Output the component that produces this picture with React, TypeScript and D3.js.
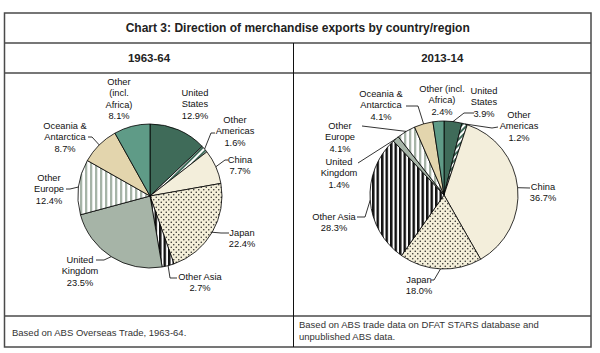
import React from "react";
import * as d3 from "d3";

// ---- Data ----
const regions = [
  "United States",
  "Other Americas",
  "China",
  "Japan",
  "Other Asia",
  "United Kingdom",
  "Other Europe",
  "Oceania & Antarctica",
  "Other (incl. Africa)",
];
const values1963 = [12.9, 1.6, 7.7, 22.4, 2.7, 23.5, 12.4, 8.7, 8.1];
const values2013 = [3.9, 1.2, 36.7, 18.0, 28.3, 1.4, 4.1, 4.1, 2.4];
const periods = ["1963-64", "2013-14"];
const title = "Chart 3: Direction of merchandise exports by country/region";
const sources = [
  ["Based on ABS Overseas Trade, 1963-64."],
  ["Based on ABS trade data on DFAT STARS database and", "unpublished ABS data."],
];

// label text lines (without the value line)
const labelLines1963 = [
  ["United", "States"],
  ["Other", "Americas"],
  ["China"],
  ["Japan"],
  ["Other Asia"],
  ["United", "Kingdom"],
  ["Other", "Europe"],
  ["Oceania &", "Antarctica"],
  ["Other", "(incl.", "Africa)"],
];
const labelLines2013 = [
  ["United", "States"],
  ["Other", "Americas"],
  ["China"],
  ["Japan"],
  ["Other Asia"],
  ["United", "Kingdom"],
  ["Other", "Europe"],
  ["Oceania &", "Antarctica"],
  ["Other (incl.", "Africa)"],
];

// ---- Layout ----
const W = 600;
const H = 353;
const box = { x0: 4.5, x1: 591, y0: 13, yTitle: 43, yHead: 73, yFoot: 316, y1: 347 };
const xMid = 293.5;
const pies = [
  { cx: 150, cy: 196, r: 72 },
  { cx: 444, cy: 195, r: 74 },
];
const fills = [
  "#3f6b59",
  "url(#pOA)",
  "#f3eedb",
  "url(#pJapan)",
  "url(#pOAsia)",
  "#a6b4a7",
  "url(#pOEur)",
  "#e3d5ad",
  "#5f9b87",
];
type LP = { x: number; y: number; lead?: number[][] };
const layout1963: LP[] = [
  { x: 195, y: 93 },
  { x: 235, y: 120, lead: [[211, 133], [215, 133]] },
  { x: 240, y: 160, lead: [[225, 160], [228, 160]] },
  { x: 242, y: 233, lead: [[221, 233], [229, 233]] },
  { x: 200, y: 277, lead: [[170, 278], [177, 278]] },
  { x: 80, y: 260, lead: [[104, 260], [96, 260]] },
  { x: 49, y: 178, lead: [[70, 189], [66, 189]] },
  { x: 65, y: 126, lead: [[92, 137], [88, 137]] },
  { x: 119, y: 82 },
];
const layout2013: LP[] = [
  { x: 484, y: 91, lead: [[464, 113], [474, 113]] },
  { x: 519, y: 115, lead: [[492, 128], [498, 127]] },
  { x: 543, y: 187, lead: [[530, 188]] },
  { x: 419, y: 280, lead: [[434, 280], [431, 280]] },
  { x: 334, y: 217, lead: [[365, 217], [357, 217]] },
  { x: 339, y: 162, lead: [[358, 163]] },
  { x: 340, y: 126, lead: [[362, 126]] },
  { x: 381, y: 94, lead: [[418, 106], [406, 106]] },
  { x: 442, y: 89 },
];

const LH = 11.2;
const FONT = "Liberation Sans, Arial, sans-serif";

function Pie({ values, lines, layout, geo }: { values: number[]; lines: string[][]; layout: LP[]; geo: { cx: number; cy: number; r: number } }) {
  const pie = d3.pie<number>().sort(null).value((d) => d)(values);
  const arc = d3.arc<d3.PieArcDatum<number>>().innerRadius(0).outerRadius(geo.r);
  return (
    <g>
      <g transform={`translate(${geo.cx},${geo.cy})`}>
        {pie.map((p, i) => (
          <path key={i} d={arc(p) || ""} fill={fills[i]} stroke="#000" strokeWidth={0.8} strokeLinejoin="round" />
        ))}
      </g>
      {pie.map((p, i) => {
        const L = layout[i];
        const txt = [...lines[i], `${values[i].toFixed(1)}%`];
        const mid = (p.startAngle + p.endAngle) / 2;
        const sx = geo.cx + geo.r * Math.sin(mid);
        const sy = geo.cy - geo.r * Math.cos(mid);
        return (
          <g key={"l" + i}>
            {L.lead && (
              <polyline
                points={[[sx, sy], ...L.lead].map((q) => q.join(",")).join(" ")}
                fill="none"
                stroke="#000"
                strokeWidth={0.8}
              />
            )}
            <text x={L.x} y={L.y} textAnchor="middle" fontFamily={FONT} fontSize={9.3} fill="#111">
              {txt.map((t, k) => (
                <tspan key={k} x={L.x} y={L.y + k * LH} dy="0.35em">
                  {t}
                </tspan>
              ))}
            </text>
          </g>
        );
      })}
    </g>
  );
}

export default function App() {
  const lineC = "#4a4a4a";
  return (
    <svg width={W} height={H} style={{ position: "absolute", left: 0, top: 0, background: "#fff" }}>
      <defs>
        <pattern id="pOA" patternUnits="userSpaceOnUse" width={4} height={4} patternTransform="rotate(45)">
          <rect width={4} height={4} fill="#3f6b59" />
          <rect width={2} height={4} fill="#fff" />
        </pattern>
        <pattern id="pJapan" patternUnits="userSpaceOnUse" width={5} height={5}>
          <rect width={5} height={5} fill="#f4efd9" />
          <circle cx={1.25} cy={1.25} r={0.75} fill="#222" />
          <circle cx={3.75} cy={3.75} r={0.75} fill="#222" />
        </pattern>
        <pattern id="pOAsia" patternUnits="userSpaceOnUse" width={4.5} height={4}>
          <rect width={4.5} height={4} fill="#fff" />
          <rect width={2.5} height={4} fill="#111" />
        </pattern>
        <pattern id="pOEur" patternUnits="userSpaceOnUse" width={5} height={4}>
          <rect width={5} height={4} fill="#fff" />
          <rect width={2.3} height={4} fill="#a6b4a7" />
        </pattern>
      </defs>

      {/* frame */}
      <rect x={box.x0} y={box.y0} width={box.x1 - box.x0} height={box.y1 - box.y0} fill="none" stroke={lineC} strokeWidth={1.5} />
      <line x1={box.x0} x2={box.x1} y1={box.yTitle} y2={box.yTitle} stroke={lineC} strokeWidth={1.5} />
      <line x1={box.x0} x2={box.x1} y1={box.yHead} y2={box.yHead} stroke={lineC} strokeWidth={1.5} />
      <line x1={box.x0} x2={box.x1} y1={box.yFoot} y2={box.yFoot} stroke={lineC} strokeWidth={1.5} />
      <line x1={xMid} x2={xMid} y1={box.yTitle} y2={box.y1} stroke="#111" strokeWidth={1} />

      <text x={(box.x0 + box.x1) / 2} y={28} dy="0.35em" textAnchor="middle" fontFamily={FONT} fontWeight="bold" fontSize={12} fill="#222">
        {title}
      </text>
      {periods.map((p, i) => (
        <text key={p} x={i === 0 ? (box.x0 + xMid) / 2 : (xMid + box.x1) / 2} y={58} dy="0.35em" textAnchor="middle" fontFamily={FONT} fontWeight="bold" fontSize={11.5} fill="#222">
          {p}
        </text>
      ))}

      <Pie values={values1963} lines={labelLines1963} layout={layout1963} geo={pies[0]} />
      <Pie values={values2013} lines={labelLines2013} layout={layout2013} geo={pies[1]} />

      {sources.map((s, i) =>
        s.map((t, k) => (
          <text
            key={i + "-" + k}
            x={i === 0 ? 12 : 299}
            y={(s.length === 1 ? 333 : 325) + k * 12}
            dy="0.35em"
            fontFamily={FONT}
            fontSize={9.5}
            fill="#333"
          >
            {t}
          </text>
        ))
      )}
    </svg>
  );
}
